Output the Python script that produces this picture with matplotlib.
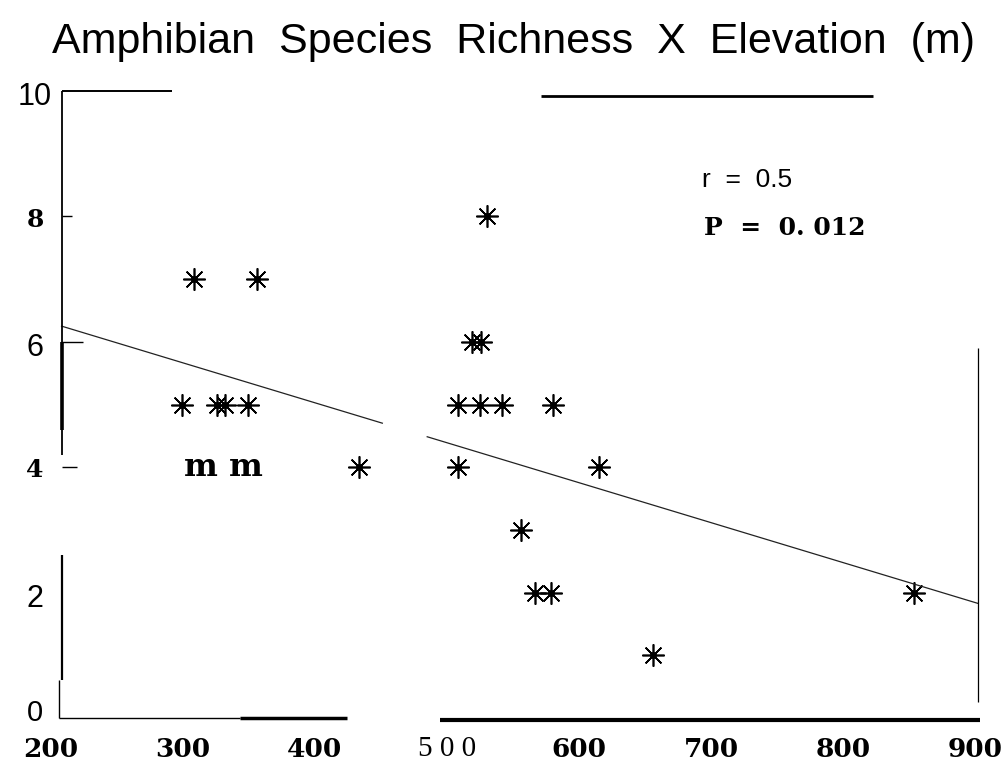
import numpy as np
import matplotlib
matplotlib.use("Agg")
import matplotlib.pyplot as plt

# elevation (m) and number of amphibian species at each site
elev = [308, 356, 299, 326, 332, 349, 433,
        530, 519, 526, 508, 525, 542, 580,
        508, 615, 556, 567, 579, 656, 854]
species = [7, 7, 5, 5, 5, 5, 4,
           8, 6, 6, 5, 5, 5, 5,
           4, 4, 3, 2, 2, 1, 2]

# fitted line (drawn in two pieces, gap in the scan)
fit_intercept = 7.575
fit_slope = -0.00637
fit_pieces = [[208, 451], [485, 902]]

x_ticks = [200, 300, 400, 500, 600, 700, 800, 900]
x_labels = ["200", "300", "400", "5 0 0", "600", "700", "800", "900"]
y_ticks = [0, 2, 4, 6, 8, 10]
y_labels = ["0", "2", "4", "6", "8", "10"]

serif = "Liberation Serif"
bserif = "DejaVu Serif"
sans = "Liberation Sans"

fig = plt.figure(figsize=(10.08, 7.76), dpi=100)
W, H = 1008, 776
ax = fig.add_axes([51 / W, (H - 718) / H, (975 - 51) / W, (718 - 91) / H])
ax.set_xlim(200, 900)
ax.set_ylim(0, 10)
ax.axis("off")

# data
ax.plot(elev, species, ls="none", marker=(8, 2, 0), ms=16, mew=1.2, color="k", clip_on=False)
ax.plot(elev, species, ls="none", marker="o", ms=4, color="k", clip_on=False)

for seg in fit_pieces:
    xs = np.array(seg, dtype=float)
    ax.plot(xs, fit_intercept + fit_slope * xs, color="#222222", lw=0.9, clip_on=False)

# broken-looking frame, like the scanned original
k = dict(color="k", clip_on=False, solid_capstyle="butt")
ax.plot([208, 208], [10, 4.2], lw=1.3, **k)
ax.plot([208, 208], [6.0, 4.6], lw=2.6, **k)
ax.plot([208, 208], [2.6, 0.6], lw=1.6, **k)
ax.plot([206, 206], [0.6, 0], lw=1.0, **k)
ax.plot([208, 292], [10, 10], lw=1.4, **k)
ax.plot([571, 823], [9.92, 9.92], lw=2.0, **k)
ax.plot([206, 343], [0, 0], lw=1.0, **k)
ax.plot([343, 424], [0, 0], lw=2.5, **k)
ax.plot([495, 904], [-0.03, -0.03], lw=3.0, **k)
ax.plot([902, 902], [5.9, 0.25], lw=0.9, **k)
for yt, ln in [(8, 8), (6, 16), (4, 12)]:
    ax.plot([208, 208 + ln], [yt, yt], lw=1.0, **k)

# tick labels, mixed fonts as in the scan
for v, lab in zip(x_ticks, x_labels):
    if v == 500:
        ax.text(v, -0.5, lab, ha="center", va="center", fontsize=21, family=serif, clip_on=False)
    else:
        ax.text(v, -0.5, lab, ha="center", va="center", fontsize=19, family=bserif,
                weight="bold", clip_on=False)
for v, lab in zip(y_ticks, y_labels):
    if v in (4, 8):
        ax.text(188, v - 0.05, lab, ha="center", va="center", fontsize=18, family=bserif,
                weight="bold", clip_on=False)
    elif v == 0:
        ax.text(188, 0.08, lab, ha="center", va="center", fontsize=21, family=sans, clip_on=False)
    else:
        ax.text(188, v - 0.1, lab, ha="center", va="center", fontsize=22, family=sans, clip_on=False)

ax.text(331, 4.0, "m m", ha="center", va="center", fontsize=23, family=bserif, weight="bold")
ax.text(727, 8.58, "r  =  0.5", ha="center", va="center", fontsize=19, family=sans)
ax.text(756, 7.82, "P  =  0. 012", ha="center", va="center", fontsize=18, family=bserif, weight="bold")

fig.text(513 / W, 1 - 42 / H, "Amphibian  Species  Richness  X  Elevation  (m)",
         ha="center", va="center", fontsize=31, family=sans)

fig.savefig("out.png", dpi=100)
